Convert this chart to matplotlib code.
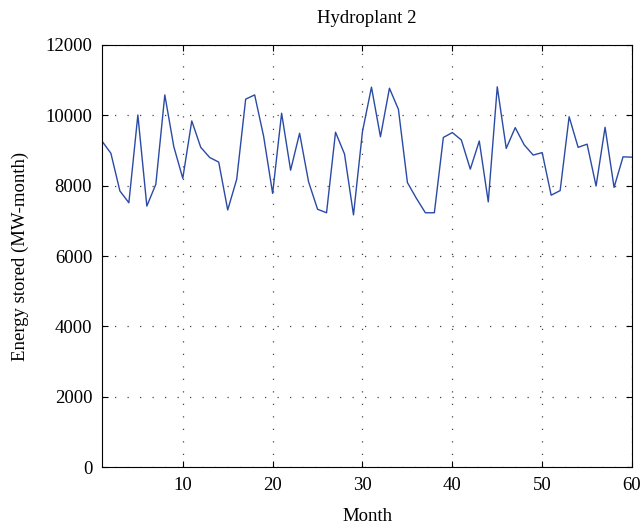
import matplotlib
matplotlib.use('Agg')
import matplotlib.pyplot as plt
import numpy as np

# Data
months = np.arange(1, 61)
energy = [9270, 8920, 7850, 7515, 10010, 7420, 8040, 10580, 9110, 8210,
          9840, 9090, 8800, 8670, 7310, 8180, 10460, 10580, 9400, 7780,
          10060, 8440, 9490, 8110, 7330, 7230, 9520, 8900, 7170, 9540,
          10800, 9390, 10770, 10170, 8090, 7640, 7230, 7230, 9370, 9510,
          9300, 8470, 9270, 7540, 10810, 9060, 9650, 9160, 8870, 8940,
          7730, 7860, 9960, 9090, 9180, 7990, 9660, 7950, 8820, 8810]

plt.rcParams['font.family'] = ['Liberation Serif', 'DejaVu Serif']
plt.rcParams['font.size'] = 13.5

fig = plt.figure(figsize=(6.41, 5.29), dpi=100)
ax = fig.add_axes([0.159, 0.117, 0.827, 0.798])

ax.plot(months, energy, color='#2a4aa5', linewidth=1.0)

ax.set_xlim(1, 60)
ax.set_ylim(0, 12000)
ax.set_xticks([10, 20, 30, 40, 50, 60])
ax.set_yticks(np.arange(0, 12001, 2000))
ax.tick_params(direction='in', top=True, right=True, length=4, labelsize=13.5)
ax.tick_params(axis='x', pad=7)
ax.tick_params(axis='y', pad=7)
ax.grid(True, linestyle=(0, (1, 9)), color='#444444', linewidth=0.9)
for s in ax.spines.values():
    s.set_linewidth(0.8)

ax.set_title('Hydroplant 2', fontsize=13.5, pad=16)
ax.set_xlabel('Month', fontsize=13.5, labelpad=10)
ax.set_ylabel('Energy stored (MW-month)', fontsize=13.5, labelpad=12)

plt.savefig('out.png', dpi=100)
